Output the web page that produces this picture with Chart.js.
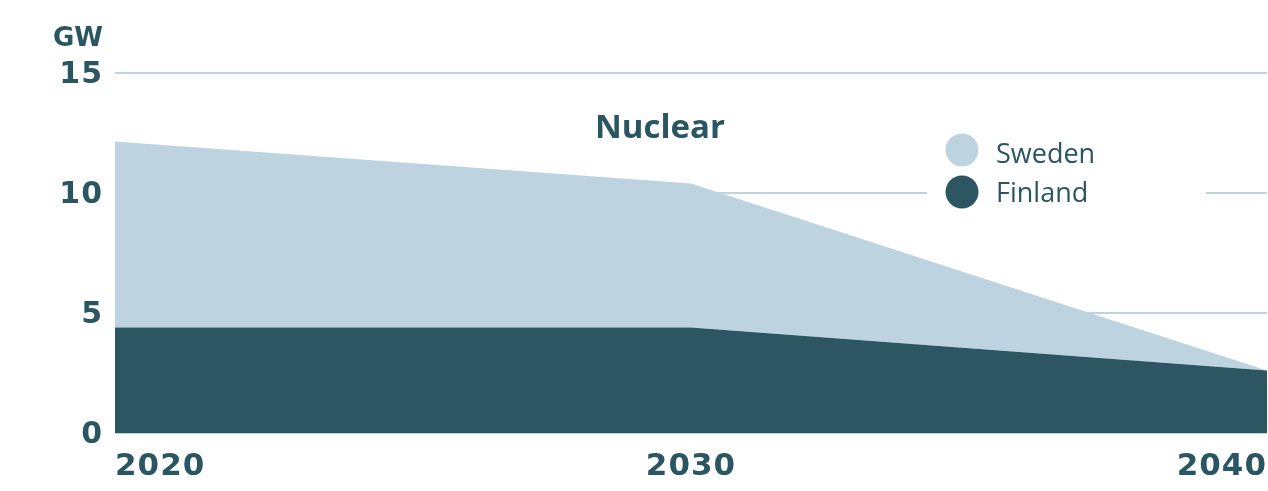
<!DOCTYPE html>
<html lang="en">
<head>
    <meta charset="UTF-8">
    <script src="https://cdn.jsdelivr.net/npm/chart.js@4"></script>
    <title>Nuclear</title>
    <style>
        body { margin: 0; background: #ffffff; }
        #grafico { display: block; }
    </style>
</head>
<body>
    <canvas id="grafico" width="1268" height="491"></canvas>

<script>
    // dados (GW)
    const anos = [2020, 2030, 2040];
    const finland = [4.4, 4.4, 2.6];
    const sweden = [7.75, 6.0, 0];
    const yTicks = [0, 5, 10, 15];

    const corEscura = '#2b5662';
    const corClara = '#bdd4e0';
    const corTexto = '#2a5562';

    // legenda, titulo e unidade desenhados a mao
    const extras = {
        id: 'extras',
        beforeDraw(chart) {
            chart.ctx.letterSpacing = '1px';
        },
        beforeDatasetsDraw(chart) {
            const ctx = chart.ctx;
            ctx.save();
            ctx.fillStyle = '#ffffff';
            ctx.fillRect(927, 125, 279, 95);
            ctx.restore();
        },
        afterDraw(chart) {
            const ctx = chart.ctx;
            ctx.letterSpacing = '0px';
            ctx.save();
            ctx.fillStyle = corTexto;
            ctx.textBaseline = 'alphabetic';

            ctx.font = 'bold 26px "DejaVu Sans"';
            ctx.textAlign = 'right';
            ctx.fillText('GW', 103, 46);

            ctx.font = 'bold 33px "Open Sans"';
            ctx.textAlign = 'center';
            ctx.fillText('Nuclear', 660, 138);

            const itens = [['Sweden', corClara, 150, 163], ['Finland', corEscura, 192, 202]];
            ctx.font = '27px "Open Sans"';
            ctx.textAlign = 'left';
            itens.forEach(function (it) {
                ctx.fillStyle = it[1];
                ctx.beginPath();
                ctx.arc(962, it[2], 16.5, 0, Math.PI * 2);
                ctx.fill();
                ctx.fillStyle = corTexto;
                ctx.fillText(it[0], 996, it[3]);
            });
            ctx.restore();
        }
    };

    const dados = {
        datasets: [{
            label: 'Finland',
            data: anos.map((a, i) => ({ x: a, y: finland[i] })),
            backgroundColor: corEscura,
            borderWidth: 0,
            pointRadius: 0,
            fill: 'origin'
        }, {
            label: 'Sweden',
            data: anos.map((a, i) => ({ x: a, y: sweden[i] })),
            backgroundColor: corClara,
            borderWidth: 0,
            pointRadius: 0,
            fill: '-1'
        }]
    };

    const config = {
        type: 'line',
        data: dados,
        options: {
            responsive: false,
            animation: false,
            devicePixelRatio: 1,
            layout: { padding: { top: 73, right: 1, left: 0, bottom: 0 } },
            plugins: {
                legend: { display: false },
                tooltip: { enabled: false }
            },
            scales: {
                x: {
                    type: 'linear',
                    min: 2020,
                    max: 2040,
                    afterFit: s => { s.height = 58; s.paddingLeft = 0; s.paddingRight = 0; },
                    afterBuildTicks: s => { s.ticks = anos.map(v => ({ value: v })); },
                    grid: { display: false },
                    border: { display: false },
                    ticks: {
                        align: 'inner',
                        padding: 7,
                        color: corTexto,
                        font: { family: 'DejaVu Sans', weight: 'bold', size: 31 },
                        callback: v => String(v)
                    }
                },
                y: {
                    stacked: true,
                    min: 0,
                    max: 15,
                    afterFit: s => { s.width = 115; },
                    afterBuildTicks: s => { s.ticks = yTicks.map(v => ({ value: v })); },
                    grid: { color: corClara, lineWidth: 2, drawTicks: false },
                    border: { display: false },
                    ticks: {
                        padding: 12,
                        labelOffset: 2,
                        color: corTexto,
                        font: { family: 'DejaVu Sans', weight: 'bold', size: 30 }
                    }
                }
            }
        },
        plugins: [extras]
    };

    let myChart = new Chart(document.getElementById('grafico'), config);
</script>
</body>
</html>
